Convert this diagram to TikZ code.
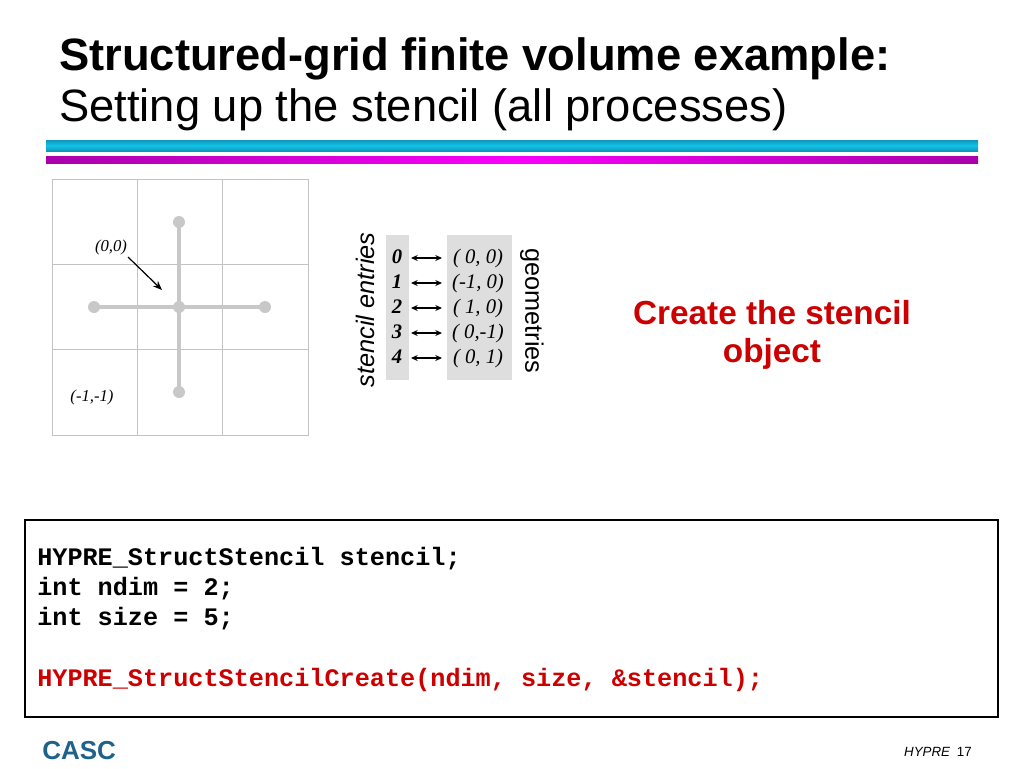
\documentclass[tikz,border=0pt]{standalone}
\usepackage{fontspec}
\setmainfont{Liberation Serif}
\setsansfont{Liberation Sans}
\setmonofont{Liberation Mono}
\usetikzlibrary{arrows.meta}
\definecolor{barcyan}{RGB}{18,196,232}
\definecolor{barcyandark}{RGB}{16,150,185}
\definecolor{barmag}{RGB}{250,0,250}
\definecolor{barmagdark}{RGB}{170,0,170}
\definecolor{hred}{RGB}{204,0,0}
\definecolor{casc}{RGB}{30,98,140}
\definecolor{stencilgray}{RGB}{200,200,200}
\definecolor{boxgray}{RGB}{222,222,222}
\definecolor{gridgray}{RGB}{195,195,195}
\tikzset{
  gridline/.style={draw=gridgray, line width=0.6pt},
  stencilline/.style={draw=stencilgray, line width=3.6pt},
  stencildot/.style={circle, fill=stencilgray, inner sep=0pt, minimum size=9pt},
  coordlabel/.style={font=\itshape\fontsize{12.5}{14}\selectfont, inner sep=0pt},
  entrynum/.style={font=\bfseries\itshape\fontsize{15.5}{17}\selectfont, inner sep=0pt, anchor=base},
  geomtext/.style={font=\itshape\fontsize{15.5}{17}\selectfont, inner sep=0pt, anchor=base},
  dblarrow/.style={{Stealth[length=5pt,width=4.5pt]}-{Stealth[length=5pt,width=4.5pt]}, line width=0.8pt},
  codeline/.style={font=\ttfamily\bfseries\fontsize{18.9}{22}\selectfont, anchor=base west, inner sep=0pt},
}
\begin{document}
\begin{tikzpicture}[x=0.75pt,y=-0.75pt]
\useasboundingbox (0,0) rectangle (1024,768);
% title
\node[anchor=base west, inner sep=0pt, font=\sffamily\bfseries\fontsize{34}{40}\selectfont] (t1) at (59,70) {Structured-grid finite volume example:};
\node[anchor=base west, inner sep=0pt, font=\sffamily\fontsize{34}{40}\selectfont] (t2) at (59,121) {Setting up the stencil (all processes)};
% bars
\shade[top color=barcyandark, bottom color=barcyandark, middle color=barcyan] (46,140) rectangle (978,151);
\shade[left color=barmagdark, right color=barmagdark, middle color=barmag] (46,156) rectangle (978,163);
% grid
\draw[gridline] (52,179) rectangle (308,435);
\draw[gridline] (137,179) -- (137,435);
\draw[gridline] (222,179) -- (222,435);
\draw[gridline] (52,264) -- (308,264);
\draw[gridline] (52,349) -- (308,349);
% stencil
\node[stencildot] (sc) at (179,307) {};
\node[stencildot] (sn) at (179,222) {};
\node[stencildot] (ss) at (179,392) {};
\node[stencildot] (sw) at (94,307) {};
\node[stencildot] (se) at (265,307) {};
\draw[stencilline] (sn.center) -- (ss.center);
\draw[stencilline] (sw.center) -- (se.center);
\node[coordlabel] (l00) at (111,247) {(0,0)};
\node[coordlabel] (l11) at (92,397) {(-1,-1)};
\coordinate (a00s) at (128,257);
\coordinate (a00e) at (162,290);
\draw[-{Stealth[length=7pt,width=5.5pt]}, line width=0.9pt] (a00s) -- (a00e);
% stencil entries table
\fill[boxgray] (386,235) rectangle (409,380);
\fill[boxgray] (447,235) rectangle (512,380);
\node[font=\sffamily\itshape\fontsize{19}{22}\selectfont, rotate=90, inner sep=0pt] (se1) at (365,310) {stencil entries};
\node[font=\sffamily\fontsize{19}{22}\selectfont, rotate=-90, inner sep=0pt] (geo) at (532,311) {geometries};
\foreach \i/\g [count=\k from 0] in {0/{(\ 0,\ 0)},1/{(-1,\ 0)},2/{(\ 1,\ 0)},3/{(\ 0,-1)},4/{(\ 0,\ 1)}}{
  \pgfmathsetmacro{\yy}{263.5+25*\k}
  \node[entrynum] (n\i) at (397,\yy) {\i};
  \node[geomtext] (g\i) at (478,\yy) {\g};
  \coordinate (p\i) at (411,\yy-5.5);
  \coordinate (q\i) at (442,\yy-5.5);
  \draw[dblarrow] (p\i) -- (q\i);
}
% red caption
\node[font=\sffamily\bfseries\fontsize{25}{30}\selectfont, text=hred, align=center, inner sep=0pt] (cap) at (772,335) {Create the stencil\\[-1pt]object};
% code box
\draw[line width=1pt] (25,520) rectangle (998,717);
\node[codeline] (c1) at (37,565) {HYPRE\_StructStencil stencil;};
\node[codeline] (c2) at (37,595) {int ndim = 2;};
\node[codeline] (c3) at (37,625) {int size = 5;};
\node[codeline, text=hred] (c4) at (37,686) {HYPRE\_StructStencilCreate(ndim, size, \&stencil);};
% footer
\node[anchor=base west, inner sep=0pt, text=casc, font=\sffamily\bfseries\fontsize{19.5}{22}\selectfont] (casc) at (42,759) {CASC};
\node[anchor=base east, inner sep=0pt, font=\sffamily\fontsize{10}{12}\selectfont] (pg) at (972,756) {\textit{HYPRE}\enspace 17};
\end{tikzpicture}
\end{document}
